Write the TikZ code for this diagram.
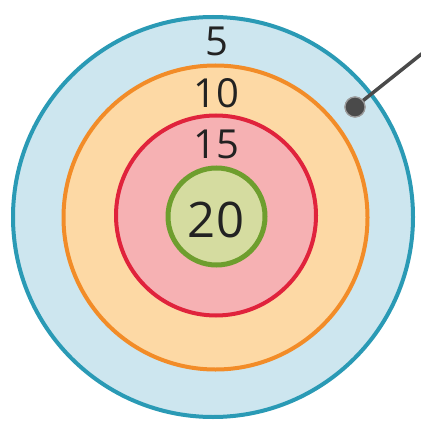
\documentclass[tikz,border=0pt]{standalone}
\usepackage{fontspec}
\setmainfont{Open Sans}
\definecolor{bluefill}{HTML}{CDE6EF}
\definecolor{bluedraw}{HTML}{2A9AB5}
\definecolor{orfill}{HTML}{FDD9A5}
\definecolor{ordraw}{HTML}{F28C28}
\definecolor{redfill}{HTML}{F6B1B3}
\definecolor{reddraw}{HTML}{E0233C}
\definecolor{grfill}{HTML}{D5DCA0}
\definecolor{grdraw}{HTML}{6E9E2E}
\definecolor{dartcol}{HTML}{4A4A4A}
\definecolor{txt}{HTML}{222222}
\begin{document}
\begin{tikzpicture}[x=1pt,y=-1pt,
  ring/.style={line width=4pt},
  score/.style={text=txt,inner sep=0pt,font=\fontsize{40}{40}\selectfont},
  dartdot/.style={circle,fill=dartcol,draw=dartcol!55,line width=1.2pt,minimum size=20pt,inner sep=0pt}]
\useasboundingbox (0,0) rectangle (420,422);
\fill[white] (0,0) rectangle (420,422);
\draw[ring,draw=bluedraw,fill=bluefill] (213,217) circle (200);
\draw[ring,draw=ordraw,fill=orfill] (215.5,217.5) circle (152);
\draw[ring,draw=reddraw,fill=redfill] (216,215.5) circle (100);
\draw[ring,line width=5pt,draw=grdraw,fill=grfill] (216.5,216.5) circle (48.5);
\node[score,anchor=base] (s5) at (217,56) {5};
\node[score,anchor=base] (s10) at (216,108) {10};
\node[score,anchor=base] (s15) at (216,158) {15};
\node[score,anchor=base,font=\fontsize{49}{49}\selectfont] (s20) at (216,237) {20};
\coordinate (tail) at (424,52);
\node[dartdot] (dart) at (355,107) {};
\draw[dartcol,line width=3.5pt] (dart.center) -- (tail);
\node[dartdot] (dartfront) at (dart.center) {};
\end{tikzpicture}
\end{document}
